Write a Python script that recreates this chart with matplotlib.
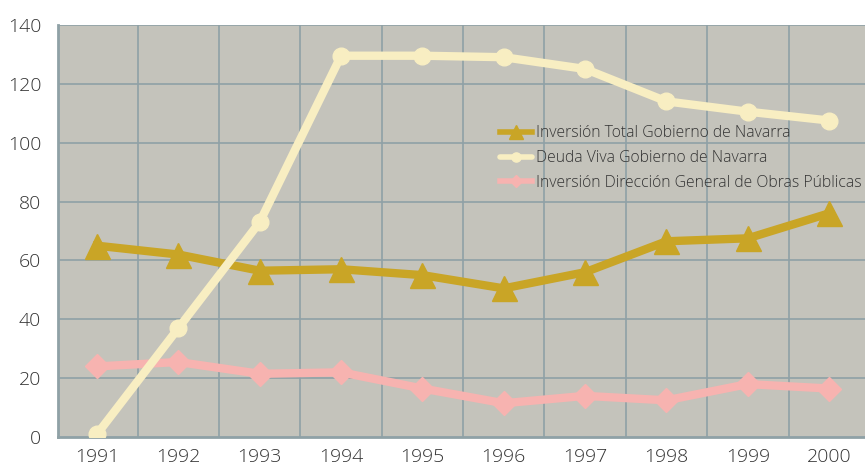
import matplotlib
matplotlib.use("Agg")
import matplotlib.pyplot as plt
import numpy as np

years = ["1991", "1992", "1993", "1994", "1995", "1996", "1997", "1998", "1999", "2000"]
inversion_total = [65, 62, 56.5, 57, 55, 50.5, 56, 66.5, 67.5, 76]
deuda_viva = [1, 37, 73, 129.5, 129.5, 129, 125, 114, 110.5, 107.5]
inversion_obras = [24, 25.5, 21.5, 22, 16.5, 11.5, 14, 12.5, 18, 16.5]

labels = ["Inversión Total Gobierno de Navarra",
          "Deuda Viva Gobierno de Navarra",
          "Inversión Dirección General de Obras Públicas"]

plt.rcParams['font.family'] = ['Open Sans', 'DejaVu Sans']
plt.rcParams['font.weight'] = 'light'

fig = plt.figure(figsize=(8.65, 4.68), dpi=100)
ax = fig.add_axes([0.067, 0.066, 0.933, 0.881])
ax.set_facecolor('#C4C3BB')

x = np.arange(len(years))
grid_c = '#8FA1A6'

ax.plot(x, inversion_total, color='#C9A526', lw=6, marker='^', ms=18,
        label=labels[0], zorder=3, solid_joinstyle='round')
ax.plot(x, deuda_viva, color='#F8EEC2', lw=6, marker='o', ms=12,
        label=labels[1], zorder=4, solid_capstyle='round')
ax.plot(x, inversion_obras, color='#F7B3B0', lw=6, marker='D', ms=12,
        label=labels[2], zorder=3)

ax.set_xlim(-0.48, 9.44)
ax.set_ylim(0, 140)
ax.set_yticks(range(0, 141, 20))
ax.set_xticks(x)
ax.set_xticklabels(years)
ax.grid(False)
for v in range(20, 141, 20):
    ax.axhline(v, color=grid_c, lw=1.2, zorder=1)
for v in np.arange(0.5, 9.5, 1):
    ax.axvline(v, color=grid_c, lw=1.2, zorder=1)

ax.tick_params(axis='both', which='both', length=0, labelsize=14, colors='#333333')
ax.tick_params(axis='y', pad=12)
ax.tick_params(axis='x', pad=8)
for s in ['top', 'right']:
    ax.spines[s].set_visible(False)
for s in ['left', 'bottom']:
    ax.spines[s].set_color(grid_c)
    ax.spines[s].set_linewidth(2)

leg = ax.legend(loc='upper left', bbox_to_anchor=(0.5385, 0.775), frameon=False,
                fontsize=11.3, handlelength=2.0, handletextpad=0.25, labelspacing=0.55,
                borderpad=0, markerscale=0.55)
for h in leg.get_lines():
    h.set_linewidth(4)
for t in leg.get_texts():
    t.set_color('#333333')

fig.savefig('out.png', dpi=100)
